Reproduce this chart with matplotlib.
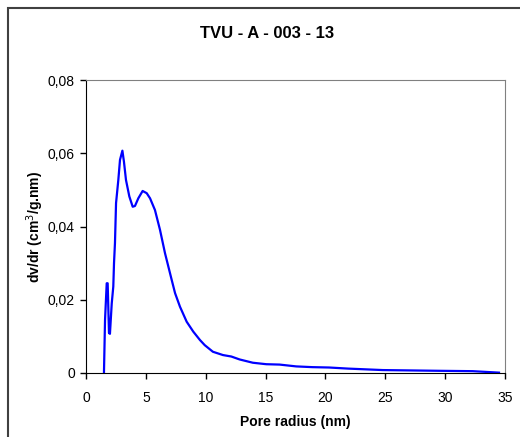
import matplotlib.pyplot as plt
from matplotlib.patches import Rectangle
from matplotlib.ticker import FuncFormatter

plt.rcParams['font.family'] = ['Liberation Sans', 'DejaVu Sans']
plt.rcParams['font.size'] = 10

# pore radius (nm) and dv/dr (cm3/g.nm)
radius = [1.50, 1.59, 1.73, 1.81, 1.92, 2.00, 2.15, 2.28, 2.34, 2.42, 2.51, 2.70,
          2.84, 3.04, 3.17, 3.34, 3.62, 3.90, 4.09, 4.37, 4.73, 5.07, 5.35, 5.76,
          6.18, 6.60, 7.16, 7.44, 7.85, 8.41, 8.96, 9.52, 9.92, 10.6, 11.44, 12.14,
          12.83, 13.94, 15.06, 16.17, 17.56, 18.9, 20.3, 21.9, 24.8, 29.5, 32.3, 34.5]
dvdr = [0.0, 0.0145, 0.0245, 0.0245, 0.0109, 0.0107, 0.019, 0.0236, 0.030, 0.0355,
        0.0464, 0.0527, 0.0582, 0.0607, 0.0577, 0.0527, 0.0482, 0.0454, 0.0456,
        0.0477, 0.0497, 0.0491, 0.0477, 0.0445, 0.0391, 0.0327, 0.0254, 0.0218,
        0.0181, 0.0140, 0.0113, 0.0090, 0.0076, 0.0058, 0.0049, 0.0045, 0.0037,
        0.0028, 0.0024, 0.0023, 0.0018, 0.0016, 0.0015, 0.0012, 0.0008, 0.0006,
        0.0005, 0.0001]

x_ticks = [0, 5, 10, 15, 20, 25, 30, 35]
y_ticks = [0, 0.02, 0.04, 0.06, 0.08]


def comma_fmt(v, pos):
    if abs(v) < 1e-12:
        return '0'
    return ('%.2f' % v).replace('.', ',')


fig = plt.figure(figsize=(5.2, 4.37), dpi=100)
# outer chart border (right and bottom edges fall outside the image)
fig.patches.append(Rectangle((8 / 520, -0.1), 1.2, (437 - 8) / 437 + 0.1,
                             transform=fig.transFigure, fill=False,
                             edgecolor='#404040', linewidth=1.5))

ax = fig.add_axes([86 / 520, 64 / 437, 419 / 520, 293 / 437])
ax.plot(radius, dvdr, color='#0000ff', linewidth=1.6)

ax.set_xlim(0, 35)
ax.set_ylim(0, 0.08)
ax.set_xticks(x_ticks)
ax.set_yticks(y_ticks)
ax.yaxis.set_major_formatter(FuncFormatter(comma_fmt))
ax.tick_params(direction='out', length=4, width=1, pad=4)
ax.tick_params(axis='x', pad=9)

for side in ['top', 'right']:
    ax.spines[side].set_color('#808080')
for side in ['left', 'bottom']:
    ax.spines[side].set_color('black')

ax.set_xlabel('Pore radius (nm)', fontweight='bold', labelpad=7.5)
ax.set_ylabel('dv/dr (cm$^3$/g.nm)', fontweight='bold', labelpad=1)
fig.text(267 / 520, 1 - 33 / 437, 'TVU - A - 003 - 13', fontsize=12,
         fontweight='bold', ha='center', va='center')

plt.savefig('out.png', dpi=100)
